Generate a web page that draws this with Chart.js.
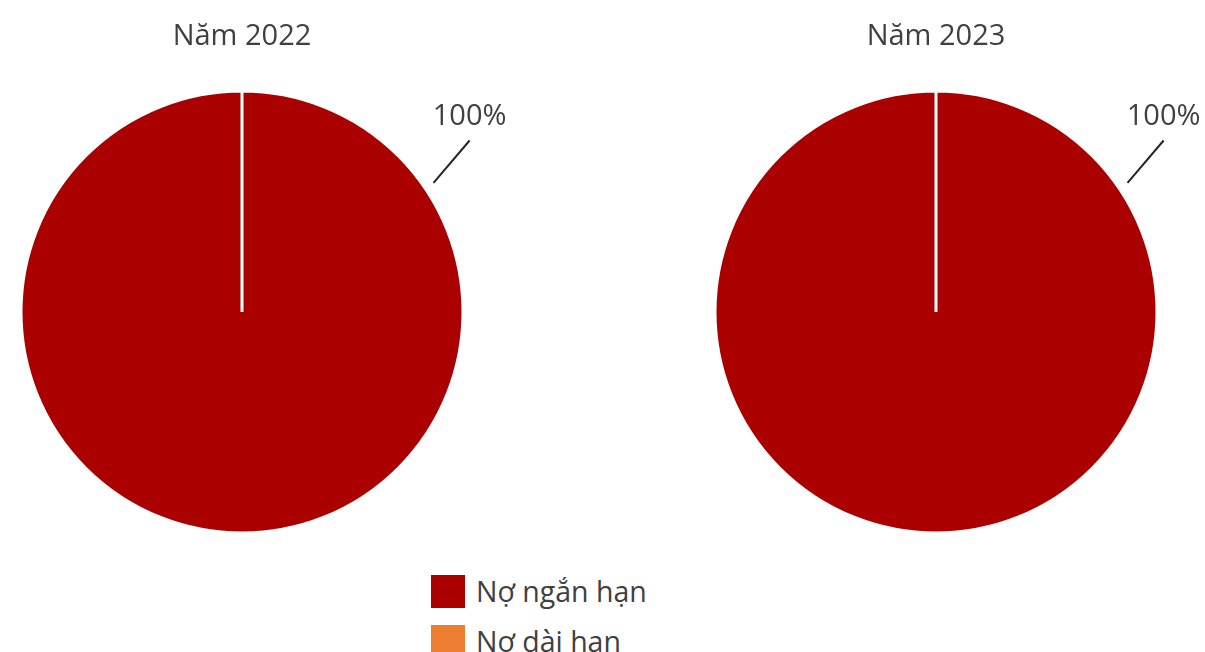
<!DOCTYPE html>
<html>
<head>
<meta charset="utf-8">
<script src="https://cdn.jsdelivr.net/npm/chart.js@4.4.0/dist/chart.umd.min.js"></script>
<style>
    html, body { margin: 0; padding: 0; background: #fff; overflow: hidden; }
    body { width: 1205px; height: 652px; position: relative; font-family: "Open Sans", "Noto Sans", sans-serif; }
    .box { position: absolute; top: 0; height: 560px; }
    #legend { position: absolute; left: 431px; top: 575px; }
    .item { display: flex; align-items: center; height: 33px; margin-bottom: 17px; }
    .swatch { width: 34px; height: 33px; margin-right: 11px; }
    .item span { font-size: 28.5px; color: #404040; line-height: 33px; }
</style>
</head>
<body>
<div class="box" style="left:0;width:602px"><canvas id="pie2022"></canvas></div>
<div class="box" style="left:602px;width:603px"><canvas id="pie2023"></canvas></div>
<div id="legend"></div>

<script>
    // Chart data
    const categories = ['Nợ ngắn hạn', 'Nợ dài hạn'];
    const titles = ['Năm 2022', 'Năm 2023'];
    const values2022 = [100, 0];
    const values2023 = [100, 0];
    const colors = ['#ab0000', '#ed7d31'];
    const textColor = '#404040';

    // Draws the "100%" label with a leader line outside the slice
    const outsideLabels = {
        id: 'outsideLabels',
        afterDatasetsDraw(chart) {
            const ctx = chart.ctx;
            const meta = chart.getDatasetMeta(0);
            const data = chart.data.datasets[0].data;
            const total = data.reduce((a, b) => a + b, 0);
            meta.data.forEach((arc, i) => {
                if (!data[i]) return;
                const pct = Math.round(data[i] / total * 100) + '%';
                const r = arc.outerRadius;
                const a1 = 34 * Math.PI / 180, a2 = 37 * Math.PI / 180;
                const x1 = arc.x + (r + 10) * Math.cos(a1), y1 = arc.y - (r + 10) * Math.sin(a1);
                const x2 = arc.x + (r + 64) * Math.cos(a2), y2 = arc.y - (r + 64) * Math.sin(a2);
                ctx.save();
                ctx.strokeStyle = '#262626';
                ctx.lineWidth = 2;
                ctx.beginPath();
                ctx.moveTo(x1, y1);
                ctx.lineTo(x2, y2);
                ctx.stroke();
                ctx.fillStyle = textColor;
                ctx.font = '29px "Open Sans", "Noto Sans", sans-serif';
                ctx.textAlign = 'center';
                ctx.textBaseline = 'middle';
                ctx.fillText(pct, x2, y2 - 24);
                ctx.restore();
            });
        }
    };

    function makePie(id, title, values, padLeft, padRight) {
        new Chart(document.getElementById(id).getContext('2d'), {
            type: 'pie',
            data: {
                labels: categories,
                datasets: [{
                    data: values,
                    backgroundColor: colors,
                    borderColor: '#ffffff',
                    borderWidth: 3
                }]
            },
            options: {
                responsive: true,
                maintainAspectRatio: false,
                animation: false,
                layout: { padding: { left: padLeft, right: padRight, top: 0, bottom: 25.5 } },
                plugins: {
                    legend: { display: false },
                    tooltip: { enabled: false },
                    title: {
                        display: true,
                        text: title,
                        color: textColor,
                        font: { family: '"Open Sans", "Noto Sans", sans-serif', size: 29, weight: 'normal' },
                        padding: { top: 19, bottom: 35.7 }
                    }
                }
            },
            plugins: [outsideLabels]
        });
    }

    makePie('pie2022', titles[0], values2022, 19.5, 137.5);
    makePie('pie2023', titles[1], values2023, 111.5, 46.5);

    // HTML legend
    const legend = document.getElementById('legend');
    categories.forEach((name, i) => {
        const item = document.createElement('div');
        item.className = 'item';
        item.innerHTML = '<div class="swatch" style="background:' + colors[i] + '"></div><span>' + name + '</span>';
        legend.appendChild(item);
    });
</script>
</body>
</html>
